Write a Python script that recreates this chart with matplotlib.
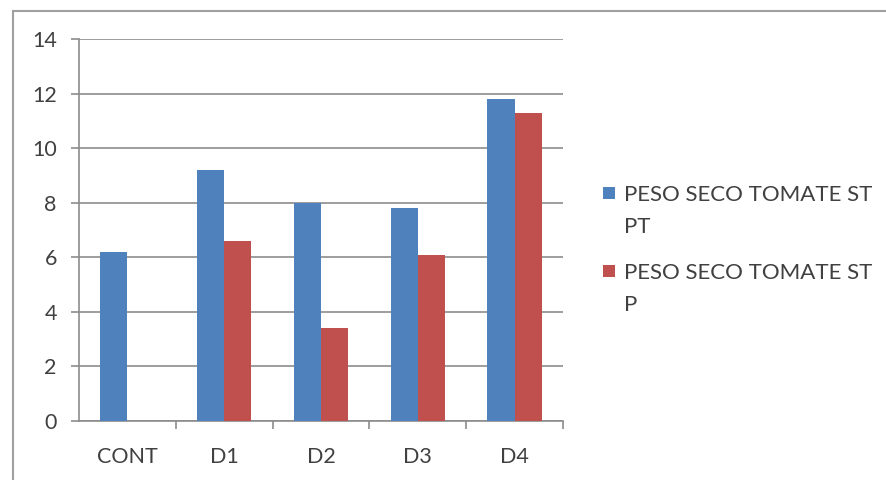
import numpy as np
import matplotlib
matplotlib.use("Agg")
import matplotlib.pyplot as plt
from matplotlib.lines import Line2D
from matplotlib.patches import Rectangle

# dry weight of tomato per treatment
categories = ["CONT", "D1", "D2", "D3", "D4"]
peso_pt = [6.2, 9.2, 8.0, 7.8, 11.8]
peso_p = [0.0, 6.6, 3.4, 6.1, 11.3]
series_names = [["PESO SECO TOMATE ST", "PT"], ["PESO SECO TOMATE ST", "P"]]

plt.rcParams["font.family"] = ["Lato", "DejaVu Sans"]
text_color = "#404040"
grid_color = "#8c8c8c"
W, H = 887, 480

fig = plt.figure(figsize=(W / 100, H / 100), dpi=100)
ax = fig.add_axes([79 / W, 59 / H, 484 / W, 382 / H])

x = np.arange(len(categories))
w = 0.28
b1 = ax.bar(x - w / 2, peso_pt, w, color="#4F81BD", zorder=3)
b2 = ax.bar(x + w / 2, peso_p, w, color="#C0504D", zorder=3)

ax.set_xlim(-0.5, len(categories) - 0.5)
ax.set_ylim(0, 14)
ax.set_yticks(range(0, 15, 2))
ax.yaxis.grid(True, color=grid_color, linewidth=1.2, zorder=0)

ax.set_xticks(x)
ax.set_xticklabels(categories)
ax.set_xticks(np.arange(0.5, len(categories), 1.0), minor=True)
ax.tick_params(axis="x", which="major", length=0, pad=19, labelsize=15.5, labelcolor=text_color)
ax.tick_params(axis="x", which="minor", length=6, width=1.2, color=grid_color)
ax.tick_params(axis="y", length=6, width=1.2, color=grid_color, pad=10,
               labelsize=15.5, labelcolor=text_color)

for side in ["top", "right"]:
    ax.spines[side].set_visible(False)
for side in ["left", "bottom"]:
    ax.spines[side].set_color(grid_color)
    ax.spines[side].set_linewidth(1.2)

# legend: square key aligned with the first line of a two-line label
for i, (bars, lines) in enumerate(zip([b1, b2], series_names)):
    top = 187 + i * 78
    fig.add_artist(Rectangle((603 / W, 1 - (top + 12) / H), 12 / W, 12 / H,
                             transform=fig.transFigure,
                             facecolor=bars.patches[0].get_facecolor(), edgecolor="none"))
    for j, line in enumerate(lines):
        fig.text(624 / W, 1 - (top + 14 + j * 32) / H, line, fontsize=16,
                 color=text_color, va="baseline", ha="left")

# chart area border (top and left edges only)
fig.add_artist(Line2D([13 / W, 13 / W], [0, 1 - 11 / H], transform=fig.transFigure,
                      color="#a0a0a0", linewidth=1.5))
fig.add_artist(Line2D([13 / W, 1], [1 - 11 / H, 1 - 11 / H], transform=fig.transFigure,
                      color="#a0a0a0", linewidth=1.5))

fig.savefig("out.png", dpi=100)
